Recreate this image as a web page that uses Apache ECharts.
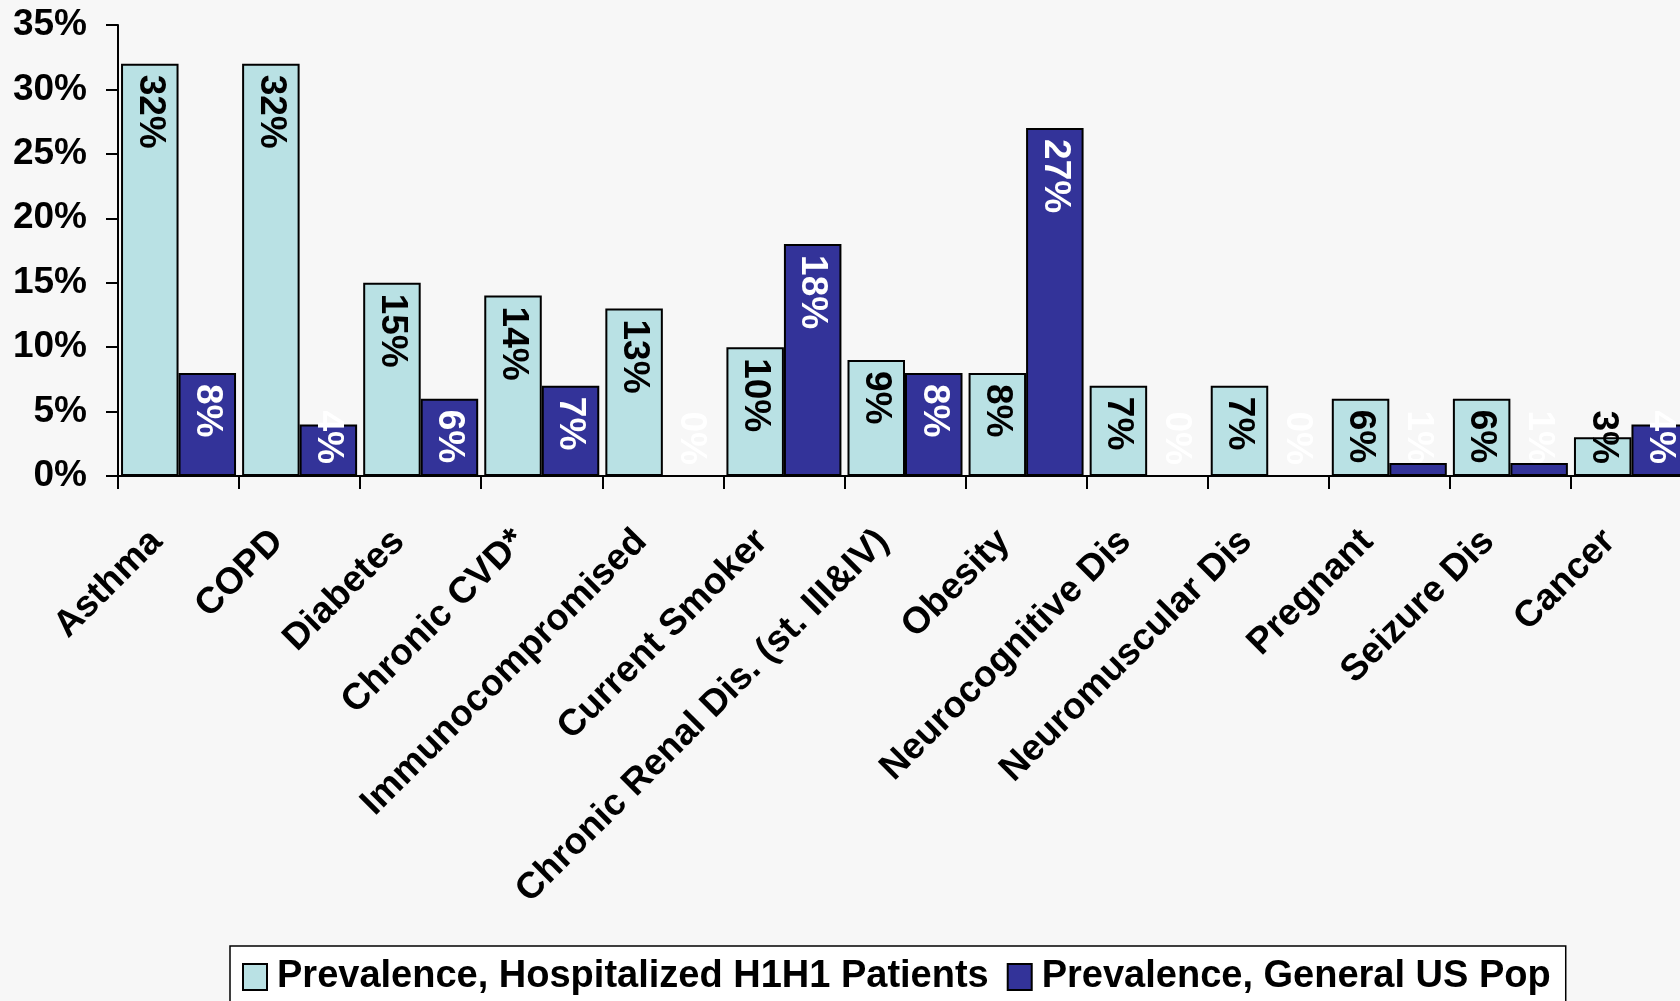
<!DOCTYPE html>
<html>
<head>
<meta charset="utf-8">
<script src="https://cdn.jsdelivr.net/npm/echarts@6/dist/echarts.min.js"></script>
<style>
  html, body { margin: 0; padding: 0; background: #f7f7f7; }
  #chart { width: 1680px; height: 1001px; }
</style>
</head>
<body>
<div id="chart"></div>
<script>
// Comorbidity prevalence (%) — hospitalized H1N1 patients vs. the general US population
const categories = [
  'Asthma', 'COPD', 'Diabetes', 'Chronic CVD*', 'Immunocompromised',
  'Current Smoker', 'Chronic Renal Dis. (st. III&IV)', 'Obesity',
  'Neurocognitive Dis', 'Neuromuscular Dis', 'Pregnant', 'Seizure Dis', 'Cancer'
];
const hospitalized = [32, 32, 15, 14, 13, 10, 9, 8, 7, 7, 6, 6, 3];
const generalPop   = [8, 4, 6, 7, 0, 18, 8, 27, 0, 0, 1, 1, 4];
const seriesNames  = ['Prevalence, Hospitalized H1H1 Patients', 'Prevalence, General US Pop'];
const yMin = 0, yMax = 35, yStep = 5;

const FONT = "'Liberation Sans', Arial, Helvetica, sans-serif";

// Value labels read top-to-bottom inside the bar end; short bars push the
// label up so it still ends just above the category axis.
function valueLabelLayout(p) {
  const base = p.rect.y + p.rect.height;
  const len = p.labelRect.height;
  const y = Math.min(p.rect.y + 11, base - 12 - len);
  return { x: p.rect.x + p.rect.width / 2, y: y };
}

function barSeries(name, data, fill, labelColor) {
  return {
    name: name,
    type: 'bar',
    data: data,
    barWidth: 57.5,
    barGap: '0%',
    itemStyle: { color: fill, borderColor: '#000', borderWidth: 2 },
    label: {
      show: true,
      position: 'insideTop',
      distance: 11,
      rotate: -90,
      align: 'left',
      verticalAlign: 'middle',
      formatter: '{c}%',
      color: labelColor,
      fontFamily: FONT,
      fontWeight: 'bold',
      fontSize: 37
    },
    labelLayout: valueLabelLayout
  };
}

const chart = echarts.init(document.getElementById('chart'), null, { renderer: 'canvas' });
chart.setOption({
  backgroundColor: '#f7f7f7',
  animation: false,
  // the plot runs a little past the right edge of the canvas, so the last bar is cut
  grid: {
    left: 118, top: 25, width: 1574, bottom: 525,
    containLabel: false,
    outerBoundsMode: 'none'
  },
  legend: {
    data: seriesNames,
    left: 230,
    top: 946,
    orient: 'horizontal',
    backgroundColor: '#ffffff',
    borderColor: '#000',
    borderWidth: 1.5,
    borderRadius: 0,
    padding: [12, 15, 12, 12],
    itemWidth: 24,
    itemHeight: 26,
    itemGap: 18,
    icon: 'rect',
    textStyle: {
      fontFamily: FONT,
      fontWeight: 'bold',
      fontSize: 38,
      color: '#000',
      padding: [0, 0, 0, 5]
    }
  },
  xAxis: {
    type: 'category',
    data: categories,
    boundaryGap: true,
    axisLine: { show: true, lineStyle: { color: '#000', width: 2 } },
    axisTick: { show: true, length: 13, lineStyle: { color: '#000', width: 2 } },
    axisLabel: {
      interval: 0,
      rotate: 45,
      margin: 38,
      padding: [0, 31, 0, 0],
      color: '#000',
      fontFamily: FONT,
      fontWeight: 'bold',
      fontSize: 37
    },
    splitLine: { show: false }
  },
  yAxis: {
    type: 'value',
    min: yMin,
    max: yMax,
    interval: yStep,
    axisLine: { show: true, lineStyle: { color: '#000', width: 2 } },
    axisTick: { show: true, length: 12, lineStyle: { color: '#000', width: 2 } },
    axisLabel: {
      formatter: '{value}%',
      margin: 31,
      color: '#000',
      fontFamily: FONT,
      fontWeight: 'bold',
      fontSize: 37
    },
    splitLine: { show: false }
  },
  series: [
    barSeries(seriesNames[0], hospitalized, '#b9e1e4', '#000'),
    barSeries(seriesNames[1], generalPop, '#333399', '#ffffff')
  ]
});
</script>
</body>
</html>
